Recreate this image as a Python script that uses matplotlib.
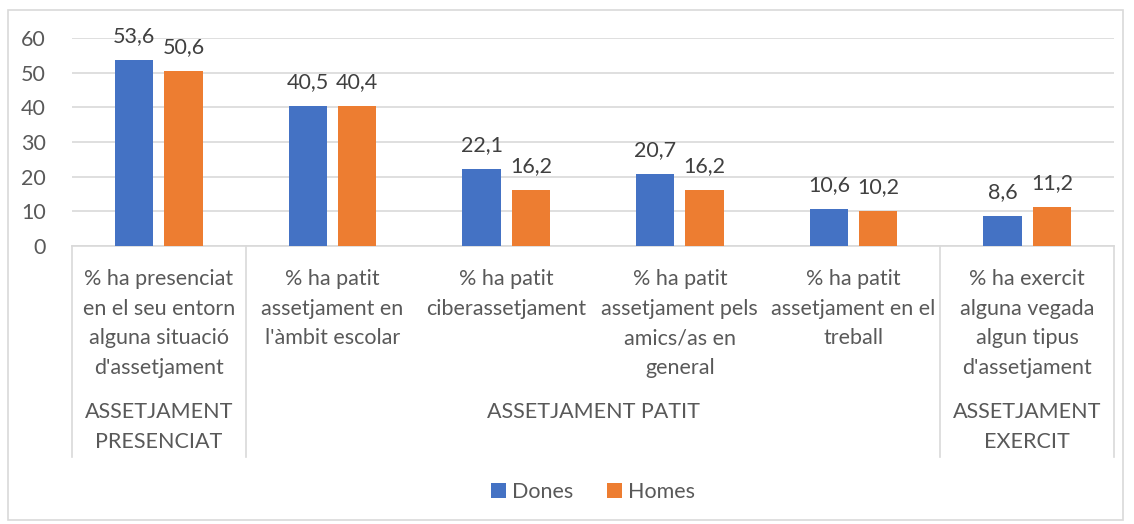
import matplotlib.pyplot as plt
import matplotlib.patches as patches
import matplotlib.transforms as mtransforms
import numpy as np

categories = [
    "% ha presenciat\nen el seu entorn\nalguna situació\nd'assetjament",
    "% ha patit\nassetjament en\nl'àmbit escolar",
    "% ha patit\nciberassetjament",
    "% ha patit\nassetjament pels\namics/as en\ngeneral",
    "% ha patit\nassetjament en el\ntreball",
    "% ha exercit\nalguna vegada\nalgun tipus\nd'assetjament",
]
groups = ["ASSETJAMENT\nPRESENCIAT", "ASSETJAMENT PATIT", "ASSETJAMENT\nEXERCIT"]
group_spans = [(0, 0), (1, 4), (5, 5)]
dones = [53.6, 40.5, 22.1, 20.7, 10.6, 8.6]
homes = [50.6, 40.4, 16.2, 16.2, 10.2, 11.2]

blue = '#4472C4'
orange = '#ED7D31'
txt = '#595959'
grid = '#d9d9d9'
fs = 15.5

plt.rcParams['font.family'] = ['Lato', 'DejaVu Sans']

fig = plt.figure(figsize=(11.34, 5.24), dpi=100)
ax = fig.add_axes([72/1134, 1 - 246/524, (1114-72)/1134, 208/524])

x = np.arange(len(categories))
w = 0.22
off = 0.142
b1 = ax.bar(x - off, dones, w, color=blue, label='Dones', zorder=3)
b2 = ax.bar(x + off, homes, w, color=orange, label='Homes', zorder=3)

for bars, vals in [(b1, dones), (b2, homes)]:
    for r, v in zip(bars, vals):
        ax.text(r.get_x() + r.get_width()/2, v + 4.0, f"{v:.1f}".replace('.', ','),
                ha='center', va='bottom', fontsize=fs, color='#404040')

ax.set_xlim(-0.5, len(categories) - 0.5)
ax.set_ylim(0, 60)
ax.set_yticks(range(0, 61, 10))
ax.tick_params(axis='y', length=0, labelsize=fs, labelcolor=txt, pad=19)
ax.set_xticks([])
ax.yaxis.grid(True, color=grid, linewidth=1.2, zorder=0)
for s in ['top', 'right', 'left']:
    ax.spines[s].set_visible(False)
ax.spines['bottom'].set_color(grid)
ax.spines['bottom'].set_linewidth(1.2)

trans = mtransforms.blended_transform_factory(ax.transData, ax.transAxes)
low = (246 - 457) / 208
for sx in [-0.5, 0.5, 4.5, 5.5]:
    ax.plot([sx, sx], [0, low], color=grid, linewidth=1.2, transform=trans, clip_on=False)

for i, c in enumerate(categories):
    ax.text(i, (246 - 269) / 208, c, ha='center', va='top', fontsize=fs,
            color=txt, transform=trans, linespacing=1.6)

for g, (a, b) in zip(groups, group_spans):
    ax.text((a + b) / 2, (246 - 402) / 208, g, ha='center', va='top', fontsize=fs,
            color=txt, transform=trans, linespacing=1.6)

fig.patches.append(patches.Rectangle((8/1134, 4/524), (1123-8)/1134, (514-4)/524,
                                     transform=fig.transFigure, fill=False,
                                     edgecolor=grid, linewidth=1.2))

fig.legend(handles=[b1, b2], loc='center', bbox_to_anchor=(593/1134, 1 - 492/524),
           ncol=2, frameon=False, fontsize=fs, handlelength=0.7, handleheight=0.7,
           handletextpad=0.25, columnspacing=1.6, labelcolor=txt)

fig.savefig('out.png', dpi=100)
